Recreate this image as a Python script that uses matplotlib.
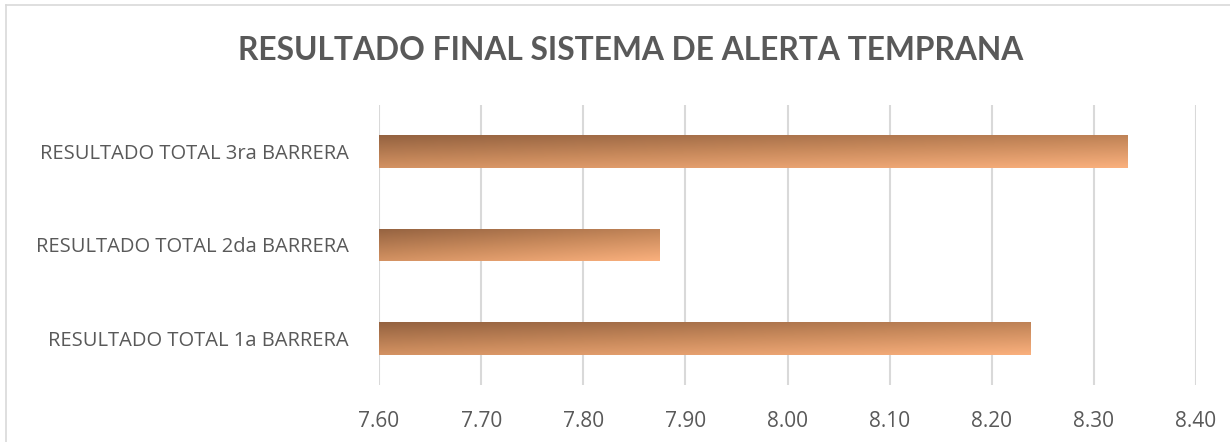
import numpy as np
import matplotlib
matplotlib.use("Agg")
import matplotlib.pyplot as plt
from matplotlib.lines import Line2D
from matplotlib.colors import LinearSegmentedColormap

# data
categories = ["RESULTADO TOTAL 1a BARRERA",
              "RESULTADO TOTAL 2da BARRERA",
              "RESULTADO TOTAL 3ra BARRERA"]
values = [8.238, 7.875, 8.333]
x_ticks = [7.60, 7.70, 7.80, 7.90, 8.00, 8.10, 8.20, 8.30, 8.40]
title = "RESULTADO FINAL SISTEMA DE ALERTA TEMPRANA"

plt.rcParams['font.family'] = ['Open Sans', 'DejaVu Sans']

fig = plt.figure(figsize=(12.3, 4.42), dpi=100)
ax = fig.add_axes([379/1230, 57/442, (1196-379)/1230, (385-105)/442])

cmap = LinearSegmentedColormap.from_list("grad", ["#946240", "#C98A5C", "#FAB07D"])
xmin, xmax = x_ticks[0], x_ticks[-1]
h = 0.35

#----------------------------------------------------------------------
# gradient bars: dark top-left to light bottom-right
nx, ny = 200, 50
gx = np.linspace(0, 1, nx)[None, :]
gy = np.linspace(0, 1, ny)[:, None]
grad = 0.4*gx + 0.6*gy  # row 0 = top

for i, v in enumerate(values):
    bar = ax.barh(i, v - xmin, left=xmin, height=h, color='none', edgecolor='none', zorder=2)[0]
    im = ax.imshow(grad, cmap=cmap, vmin=0, vmax=1, aspect='auto', origin='upper',
                   extent=(xmin, v, i - h/2, i + h/2), zorder=2, interpolation='bilinear')
    im.set_clip_path(bar)

ax.set_xlim(xmin, xmax)
ax.set_ylim(-0.5, 2.5)
ax.set_xticks(x_ticks)
ax.set_xticklabels(["%.2f" % t for t in x_ticks])
ax.set_yticks(range(len(categories)))
ax.set_yticklabels(categories)
ax.tick_params(length=0, colors='#595959')
ax.tick_params(axis='x', pad=19, labelsize=15)
ax.tick_params(axis='y', pad=22, labelsize=14.5)
for s in ax.spines.values():
    s.set_visible(False)
ax.grid(axis='x', color='#D9D9D9', linewidth=1.5, zorder=0)
ax.set_axisbelow(True)

t = fig.text(631/1230, 1 - 51/442, title, ha='center', va='center', fontsize=22,
             fontweight='bold', color='#595959', family=['Lato', 'DejaVu Sans'])
# fit title width to ~786 px
fig.canvas.draw()
w = t.get_window_extent().width
t.set_fontsize(22 * 786 / w)

# chart border (top and left visible)
fig.add_artist(Line2D([6/1230, 1], [1 - 5/442, 1 - 5/442], color='#D9D9D9', linewidth=1.2))
fig.add_artist(Line2D([6/1230, 6/1230], [0, 1 - 5/442], color='#D9D9D9', linewidth=1.2))

fig.savefig("out.png", dpi=100)
